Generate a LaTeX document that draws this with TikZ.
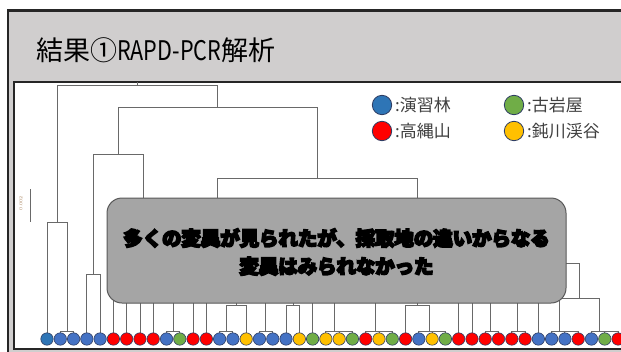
\documentclass[tikz,border=0pt]{standalone}
\usepackage{fontspec}
\usepackage{graphicx}
\newfontfamily\jp{Noto Sans CJK JP}
\IfFontExistsTF{Noto Sans CJK JP Black}{\newfontfamily\jpheavy{Noto Sans CJK JP Black}}{\newfontfamily\jpheavy{Noto Sans CJK JP Bold}}
\definecolor{titlegray}{RGB}{208,206,206}
\definecolor{framedark}{RGB}{38,38,38}
\definecolor{dgray}{RGB}{105,105,105}
\definecolor{boxfill}{RGB}{165,165,165}
\definecolor{boxline}{RGB}{89,89,89}
\definecolor{cblue}{RGB}{68,114,196}
\definecolor{cblueD}{RGB}{46,117,182}
\definecolor{cred}{RGB}{255,0,0}
\definecolor{cgreen}{RGB}{112,173,71}
\definecolor{cyellow}{RGB}{255,192,0}
\definecolor{cedge}{RGB}{47,62,100}
\definecolor{txtgray}{RGB}{64,64,64}
\newcommand{\heavyon}{\special{pdf:literal direct 0 G 2 Tr 1.6 w}}
\newcommand{\heavyoff}{\special{pdf:literal direct 0 Tr}}
\tikzset{
  dend/.style={draw=dgray, line width=0.9pt},
  leaf/.style={circle, draw=cedge, line width=0.6pt, minimum size=12.4pt, inner sep=0pt},
  legdot/.style={circle, draw=cedge, line width=0.8pt, minimum size=19.4pt, inner sep=0pt},
  legtext/.style={anchor=west, inner sep=0pt, text=txtgray, font=\jp\fontsize{17}{17}\selectfont},
  msgstyle/.style={align=center, inner sep=0pt, font=\jpheavy\fontsize{19.4}{28}\selectfont},
}
\begin{document}
\begin{tikzpicture}[x=1pt,y=-1pt]
\useasboundingbox (0,0) rectangle (621,351);
\clip (0,0) rectangle (621,351);
\fill[white] (0,0) rectangle (621,351);
% slide frame
\draw[fill=titlegray, draw=framedark, line width=2.7pt] (8,10.6) rectangle (640,370);
% title
\node[anchor=base west, inner sep=0pt, font=\jp\fontsize{27}{27}\selectfont] (title) at (36,60) {結果①\scalebox{0.8}[1]{RAPD-PCR}解析};
% inner panel
\draw[fill=white, draw=framedark, line width=1.8pt] (14,82) rectangle (640,349.3);

% leaves
\foreach \k in {0,...,43}{
  \coordinate (x\k) at ({47+13.28*\k},0);
}

% dendrogram lines
\coordinate (root) at (137,82);
\draw[dend] (root) -- (137,85);
\draw[dend] (57,85) -- (217,85);
\draw[dend] (57,85) -- (57,222);
\draw[dend] (47,222) -- (67,222);
\draw[dend] (47,222) -- (x0 |- 0,334);
\draw[dend] (67,222) -- (67,331);
\draw[dend] (x1 |- 0,331) -- (x2 |- 0,331);
\draw[dend] (x1 |- 0,331) -- (x1 |- 0,334);
\draw[dend] (x2 |- 0,331) -- (x2 |- 0,334);
\draw[dend] (217,85) -- (217,107);
\draw[dend] (118,107) -- (317,107);
\draw[dend] (118,107) -- (118,154);
\draw[dend] (93,154) -- (143,154);
\draw[dend] (143,154) -- (143,210);
\draw[dend] (93,154) -- (93,274);
\draw[dend] (x3 |- 0,274) -- (x4 |- 0,274);
\draw[dend] (x3 |- 0,274) -- (x3 |- 0,334);
\draw[dend] (x4 |- 0,274) -- (x4 |- 0,334);
\draw[dend] (317,107) -- (317,178);
\draw[dend] (217,178) -- (417,178);
\draw[dend] (217,178) -- (217,210);
\draw[dend] (417,178) -- (417,210);
% singles from under the box
\foreach \k in {5,6,7,8,11,12,20,31,32,37}{
  \draw[dend] (x\k |- 0,290) -- (x\k |- 0,334);
}
% pairs / triples joined at 331
\foreach \a/\b/\m in {9/10/173,16/17/265,21/23/334,24/26/375,33/34/490,35/36/517}{
  \draw[dend] (x\a |- 0,331) -- (x\b |- 0,331);
  \draw[dend] (\m,290) -- (\m,331);
}
\foreach \k in {9,10,16,17,21,22,23,24,25,26,33,34,35,36,13,14,28,29,30,38,39,40,41,42,43}{
  \draw[dend] (x\k |- 0,331) -- (x\k |- 0,334);
}
% cluster 13,14,15
\draw[dend] (x13 |- 0,331) -- (x14 |- 0,331);
\draw[dend] (226,305) -- (226,331);
\draw[dend] (226,305) -- (x15 |- 0,305);
\draw[dend] (x15 |- 0,305) -- (x15 |- 0,334);
\draw[dend] (236,290) -- (236,305);
% cluster 18,19
\draw[dend] (x18 |- 0,305) -- (x19 |- 0,305);
\draw[dend] (x18 |- 0,305) -- (x18 |- 0,334);
\draw[dend] (x19 |- 0,305) -- (x19 |- 0,334);
\draw[dend] (293,290) -- (293,305);
% cluster 27, 28-30
\draw[dend] (x27 |- 0,305) -- (429,305);
\draw[dend] (x27 |- 0,305) -- (x27 |- 0,334);
\draw[dend] (429,305) -- (429,331);
\draw[dend] (x28 |- 0,331) -- (x30 |- 0,331);
\draw[dend] (417,290) -- (417,305);
% right cluster
\draw[dend] (540,263) -- (579,263);
\draw[dend] (579,263) -- (579,298);
\draw[dend] (559,298) -- (599,298);
\draw[dend] (559,298) -- (559,331);
\draw[dend] (599,298) -- (599,331);
\draw[dend] (x38 |- 0,331) -- (x40 |- 0,331);
\draw[dend] (x41 |- 0,331) -- (x43 |- 0,331);

% leaf circles
\foreach \k/\c in {0/cblueD,1/cblue,2/cblue,3/cblue,4/cblue,5/cred,6/cred,7/cred,8/cred,9/cblue,10/cgreen,11/cred,12/cred,13/cblue,14/cblue,15/cyellow,16/cblue,17/cblue,18/cblue,19/cyellow,20/cgreen,21/cyellow,22/cyellow,23/cgreen,24/cred,25/cyellow,26/cgreen,27/cred,28/cblue,29/cyellow,30/cgreen,31/cred,32/cred,33/cred,34/cred,35/cred,36/cred,37/cblue,38/cblue,39/cblue,40/cred,41/cblue,42/cgreen,43/cred}{
  \node[leaf, fill=\c] (l\k) at (x\k |- 0,339) {};
}

% scale bar
\coordinate (sb1) at (30,189);
\coordinate (sb2) at (30,222);
\draw[dend, line width=0.7pt] (sb1) -- (sb2);
\node[rotate=90, inner sep=0pt, text=brown!60!gray, font=\fontsize{4.5}{5}\selectfont] (sbl) at (21,203) {0.002};

% message box
\node[draw=boxline, fill=boxfill, line width=1pt, rounded corners=15pt, minimum width=459pt, minimum height=105pt, inner sep=0pt] (msg) at (336.5,250.5) {};
\node[msgstyle] (msgtext) at (336.5,252) {\heavyon 多くの変異が見られたが、採取地の違いからなる\\\heavyon 変異はみられなかった\heavyoff};

% legend
\node[legdot, fill=cblueD] (d1) at (382,105) {};
\node[legtext] (t1) at (395,105) {:演習林};
\node[legdot, fill=cred] (d2) at (382,131) {};
\node[legtext] (t2) at (395,131) {:高縄山};
\node[legdot, fill=cgreen] (d3) at (514,105) {};
\node[legtext] (t3) at (527,105) {:古岩屋};
\node[legdot, fill=cyellow] (d4) at (514,131) {};
\node[legtext] (t4) at (527,131) {:鈍川渓谷};
\end{tikzpicture}
\end{document}
